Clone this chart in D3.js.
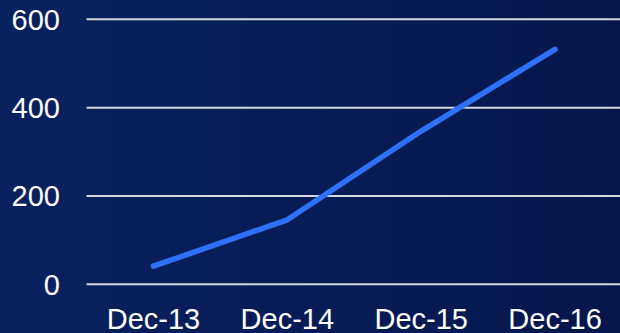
<!DOCTYPE html>
<html>
<head>
<meta charset="utf-8">
<script src="https://cdn.jsdelivr.net/npm/d3@7"></script>
<style>
  html, body { margin: 0; padding: 0; background: #061a55; }
  svg { display: block; }
</style>
</head>
<body>
<script>
// chart data
var categories = ["Dec-13", "Dec-14", "Dec-15", "Dec-16"];
var values = [41, 146, 347, 532];
var yTicks = [0, 200, 400, 600];

var width = 620, height = 333;

var svg = d3.select("body").append("svg")
    .attr("width", width)
    .attr("height", height);

// background gradient
var defs = svg.append("defs");
var grad = defs.append("linearGradient").attr("id", "bg")
    .attr("x1", "0%").attr("y1", "0%").attr("x2", "100%").attr("y2", "0%");
grad.append("stop").attr("offset", "0%").attr("stop-color", "#08215f");
grad.append("stop").attr("offset", "100%").attr("stop-color", "#06164d");

svg.append("rect")
    .attr("width", width).attr("height", height)
    .attr("fill", "url(#bg)");

var x = d3.scaleBand().domain(categories).range([86.5, 622]);
var y = d3.scaleLinear().domain([0, 600]).range([284.3, 19.3]);

// gridlines
svg.selectAll(".grid")
    .data(yTicks).enter().append("line")
    .attr("class", "grid")
    .attr("x1", 86.5).attr("x2", width)
    .attr("y1", function(d) { return y(d); })
    .attr("y2", function(d) { return y(d); })
    .attr("stroke", "#d4d6de")
    .attr("stroke-width", 2);

// y labels
svg.selectAll(".ylab")
    .data(yTicks).enter().append("text")
    .attr("class", "ylab")
    .attr("x", 60)
    .attr("y", function(d) { return y(d); })
    .attr("dy", "0.36em")
    .attr("text-anchor", "end")
    .attr("font-family", "Liberation Sans, Arial, sans-serif")
    .attr("font-size", "29px")
    .attr("fill", "#ffffff")
    .text(function(d) { return d; });

// x labels
svg.selectAll(".xlab")
    .data(categories).enter().append("text")
    .attr("class", "xlab")
    .attr("x", function(d) { return x(d) + x.bandwidth() / 2; })
    .attr("y", 328.5)
    .attr("text-anchor", "middle")
    .attr("font-family", "Liberation Sans, Arial, sans-serif")
    .attr("font-size", "29px")
    .attr("fill", "#ffffff")
    .text(function(d) { return d; });

// line
var line = d3.line()
    .x(function(d, i) { return x(categories[i]) + x.bandwidth() / 2; })
    .y(function(d) { return y(d); });

svg.append("path")
    .datum(values)
    .attr("d", line)
    .attr("fill", "none")
    .attr("stroke", "#2f72f9")
    .attr("stroke-width", 5.5)
    .attr("stroke-linecap", "round")
    .attr("stroke-linejoin", "round");
</script>
</body>
</html>
